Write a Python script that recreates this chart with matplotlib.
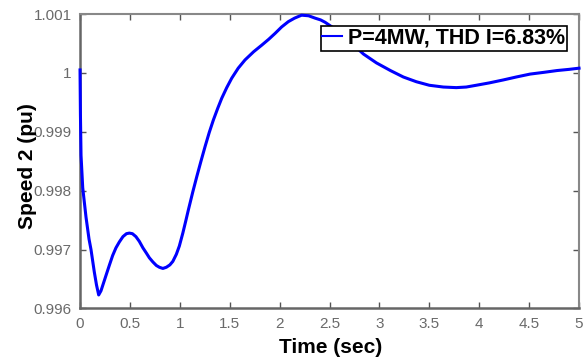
import numpy as np
import matplotlib.pyplot as plt
from matplotlib.lines import Line2D

# values
time_s = [0.0, 0.004, 0.01, 0.027, 0.06, 0.09, 0.11, 0.143, 0.165, 0.187,
          0.21, 0.235, 0.26, 0.295, 0.327, 0.36, 0.394, 0.43, 0.465, 0.494,
          0.525, 0.56, 0.594, 0.63, 0.665, 0.695, 0.73, 0.765, 0.795, 0.83,
          0.865, 0.9, 0.93, 0.965, 0.995, 1.03, 1.06, 1.085, 1.13, 1.17,
          1.21, 1.253, 1.295, 1.336, 1.38, 1.42, 1.47, 1.52, 1.585, 1.653,
          1.74, 1.82, 1.89, 1.954, 2.02, 2.087, 2.15, 2.22, 2.29, 2.355,
          2.41, 2.455, 2.55, 2.65, 2.75, 2.84, 2.97, 3.11, 3.24, 3.37,
          3.5, 3.64, 3.77, 3.87, 3.97, 4.1, 4.24, 4.37, 4.51, 4.65,
          4.78, 4.9, 5.0]
speed2 = [1.00005, 0.9993, 0.9986, 0.99805, 0.99755, 0.99718, 0.99700, 0.99662, 0.99640, 0.99623,
          0.99630, 0.99643, 0.99656, 0.99674, 0.99690, 0.99703, 0.99713, 0.99722, 0.99727, 0.99728,
          0.99727, 0.99722, 0.99714, 0.99703, 0.99694, 0.99686, 0.99679, 0.99673, 0.99670, 0.99668,
          0.99670, 0.99674, 0.99680, 0.99692, 0.99706, 0.99728, 0.99749, 0.99767, 0.99798, 0.99824,
          0.99849, 0.99875, 0.99899, 0.99920, 0.99940, 0.99957, 0.99975, 0.99991, 1.00008, 1.00022,
          1.00036, 1.00047, 1.00057, 1.00067, 1.00078, 1.00087, 1.00093, 1.00098, 1.00097, 1.00093,
          1.00090, 1.00086, 1.00075, 1.00061, 1.00046, 1.00032, 1.00017, 1.00004, 0.99993, 0.99985,
          0.99979, 0.99976, 0.99975, 0.99976, 0.99979, 0.99983, 0.99988, 0.99993, 0.99998, 1.00001,
          1.00004, 1.00006, 1.00008]

xticks = [0, 0.5, 1, 1.5, 2, 2.5, 3, 3.5, 4, 4.5, 5]
xticklabels = ['0', '0.5', '1', '1.5', '2', '2.5', '3', '3.5', '4', '4.5', '5']
yticks = [0.996, 0.997, 0.998, 0.999, 1.0, 1.001]
yticklabels = ['0.996', '0.997', '0.998', '0.999', '1', '1.001']
legend_label = 'P=4MW, THD I=6.83%'

plt.rcParams['font.family'] = ['Liberation Sans', 'DejaVu Sans']

fig = plt.figure(figsize=(5.85, 3.59), dpi=100)
ax = fig.add_axes([0.1368, 0.1407, 0.853, 0.8203])

ax.plot(time_s, speed2, color='#0000ff', lw=2.2, clip_on=False, zorder=3,
        solid_joinstyle='round')

ax.set_xlim(0, 5)
ax.set_ylim(0.996, 1.001)
ax.set_xticks(xticks)
ax.set_xticklabels(xticklabels)
ax.set_yticks(yticks)
ax.set_yticklabels(yticklabels)

for lab in ax.get_xticklabels() + ax.get_yticklabels():
    lab.set_fontsize(11)
    lab.set_color('#6a6a6a')

ax.tick_params(direction='in', length=4, width=1, color='#555555',
               top=True, right=True, pad=6)
for side in ['left', 'bottom']:
    ax.spines[side].set_color('#666666')
    ax.spines[side].set_linewidth(1.8)
for side in ['top', 'right']:
    ax.spines[side].set_color('#888888')
    ax.spines[side].set_linewidth(1.5)

ax.set_ylabel('Speed 2 (pu)', fontsize=15, fontweight='bold')
ax.set_xlabel('Time (sec)', fontsize=15, fontweight='bold')
ax.yaxis.set_label_coords(-0.086, 0.484)
ax.xaxis.set_label_coords(0.503, -0.100)

handle = Line2D([], [], color='#0000ff', lw=1.5)
leg = ax.legend([handle], [legend_label], loc='upper right',
                bbox_to_anchor=(0.976, 0.959), borderaxespad=0,
                fancybox=False, framealpha=1, edgecolor='black',
                handlelength=0.9, handletextpad=0.3, borderpad=0.08,
                prop=dict(size=15.5, weight='bold'))
leg.get_frame().set_linewidth(1.2)
leg.set_zorder(5)

fig.savefig('out.png', dpi=100)
